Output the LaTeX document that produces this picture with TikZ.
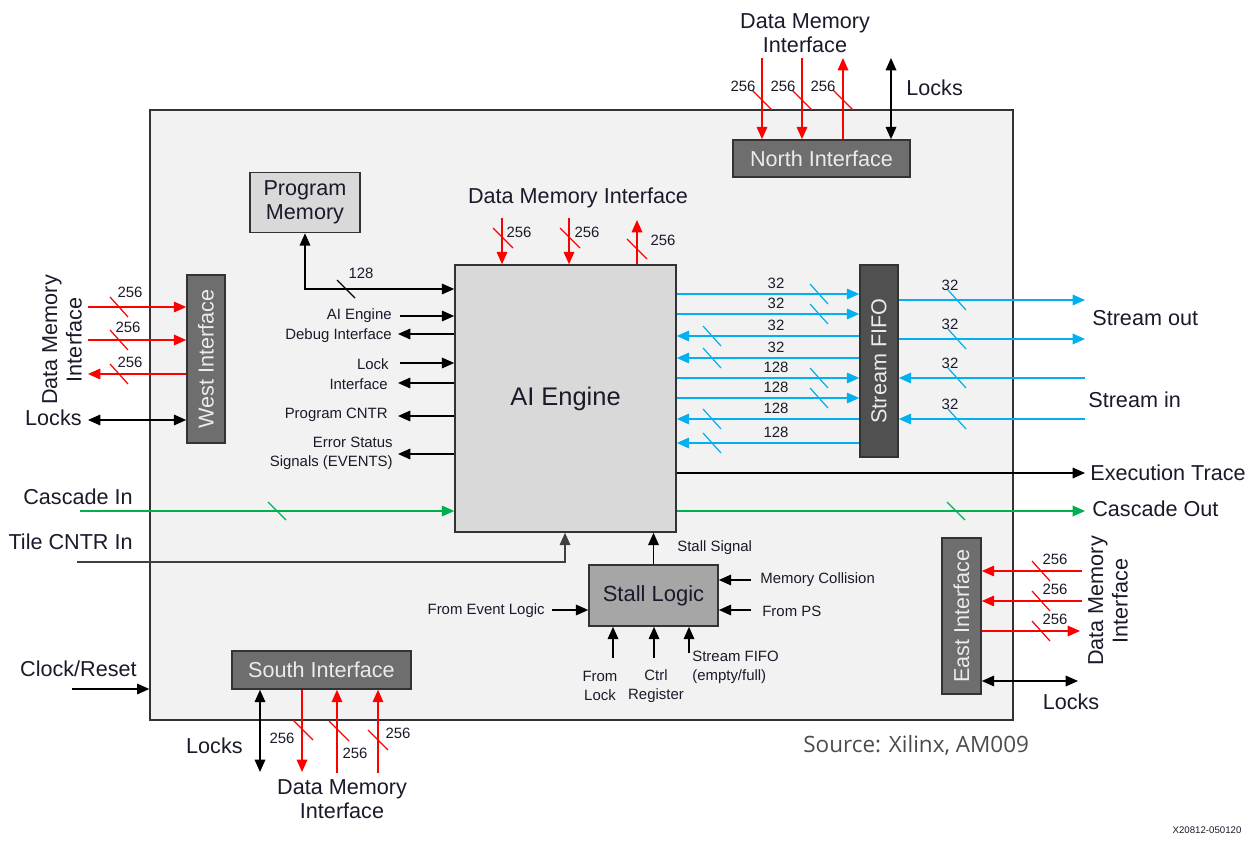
\documentclass[tikz,border=0pt]{standalone}
\usepackage{fontspec}
\setmainfont{Liberation Sans}
\newfontfamily\srcfont{Open Sans}
\usetikzlibrary{arrows.meta}
\definecolor{tilebg}{HTML}{F2F2F2}
\definecolor{corefill}{HTML}{D9D9D9}
\definecolor{portgray}{HTML}{6E6E6E}
\definecolor{fifogray}{HTML}{505050}
\definecolor{stallgray}{HTML}{A6A6A6}
\definecolor{memred}{HTML}{FF0000}
\definecolor{streamblue}{HTML}{00B0F0}
\definecolor{cascgreen}{HTML}{00B050}
\definecolor{ink}{HTML}{1A1A2A}

\begin{document}
\begin{tikzpicture}[x=0.02cm,y=-0.02cm,>={Triangle[length=7pt,width=6pt]},
   box/.style={draw=black!80,line width=0.9pt,inner sep=0pt,align=center,text=ink},
   port/.style={box,fill=portgray,text=white!92!black,font=\fontsize{12.3}{14}\selectfont},
   lbl/.style={inner sep=0pt,text=ink,font=\fontsize{12.3}{14}\selectfont,align=center},
   tiny/.style={inner sep=0pt,text=ink,font=\fontsize{8.5}{11}\selectfont,align=center},
   wire/.style={line width=0.9pt},
   bus/.style={line width=0.7pt}]
  \useasboundingbox (0,0) rectangle (1257,847);
  % --- tile and blocks ---
  \node[draw=black!80,line width=0.8pt,fill=tilebg,minimum width=17.26cm,minimum height=12.2cm] (tile) at (581.5,415) {};
  \node[box,fill=corefill,minimum width=4.42cm,minimum height=5.34cm,font=\fontsize{14.5}{16}\selectfont] (ai) at (565.5,398.5) {AI Engine};
  \node[box,fill=corefill,minimum width=2.2cm,minimum height=1.2cm,font=\fontsize{12.3}{13.5}\selectfont] (pm) at (305,202.5) {Program\\Memory};
  \node[port,minimum width=3.54cm,minimum height=0.74cm] (north) at (821.5,158.5) {North Interface};
  \node[port,minimum width=3.58cm,minimum height=0.76cm] (south) at (321.5,670) {South Interface};
  \node[port,minimum width=0.76cm,minimum height=3.36cm] (west) at (206,359) {};
  \node[port,draw=none,fill=none,rotate=90] (westtxt) at (west) {West Interface};
  \node[port,minimum width=0.78cm,minimum height=3.12cm] (east) at (961.5,616) {};
  \node[port,draw=none,fill=none,rotate=90] (easttxt) at (east) {East Interface};
  \node[port,fill=fifogray,minimum width=0.76cm,minimum height=3.84cm] (fifo) at (879,361) {};
  \node[port,draw=none,fill=none,rotate=90] (fifotxt) at (fifo) {Stream FIFO};
  \node[box,fill=stallgray,minimum width=2.58cm,minimum height=1.22cm,font=\fontsize{12.5}{14}\selectfont] (stall) at (653.5,595.5) {Stall Logic};
  % --- north ---
  \coordinate (nd1) at (762,58);
  \coordinate (nd2) at (802,58);
  \coordinate (nd3) at (843,58);
  \coordinate (nlk) at (891,58);
  \draw[wire,memred,->] (nd1) -- (nd1 |- north.north);
  \draw[wire,memred,->] (nd2) -- (nd2 |- north.north);
  \draw[wire,memred,->] (nd3 |- north.north) -- (nd3);
  \draw[wire,<->] (nlk) -- (nlk |- north.north);
  \foreach \xx in {762,802,843}
    \draw[bus,memred] (\xx,100) ++(-10,-10) -- ++(20,20);
  \foreach \xx in {743,783,823}
    \node[tiny] at (\xx,86) {256};
  \node[lbl] (ndmi) at (805,33) {Data Memory\\Interface};
  \node[lbl,anchor=west] (nlocks) at (906,88) {Locks};
  % --- west ---
  \coordinate (wd1) at (88,307);
  \coordinate (wd2) at (88,340);
  \coordinate (wd3) at (88,374);
  \coordinate (wlk) at (88,420);
  \draw[wire,memred,->] (wd1) -- (wd1 -| west.west);
  \draw[wire,memred,->] (wd2) -- (wd2 -| west.west);
  \draw[wire,memred,->] (wd3 -| west.west) -- (wd3);
  \draw[wire,<->] (wlk) -- (wlk -| west.west);
  \foreach \yy in {307,340,374}
    \draw[bus,memred] (119,\yy) ++(-9,-10) -- ++(18,20);
  \node[tiny] at (130,292) {256};
  \node[tiny] at (128,327) {256};
  \node[tiny] at (130,362) {256};
  \node[lbl,anchor=east] (wlocks) at (82,418) {Locks};
  \node[lbl,rotate=90] (wdmi) at (62,340) {Data Memory\\Interface};
  % --- program memory and debug ports ---
  \draw[wire,<->] (pm.south) |- (ai.west |- 0,289);
  \draw[bus] (346,289) ++(-9,-9) -- ++(18,18);
  \node[tiny] at (361,273) {128};
  \coordinate (dbgin) at (400,316);
  \coordinate (dbgout) at (398,334);
  \coordinate (lkin) at (400,363);
  \coordinate (lkout) at (398,383);
  \coordinate (pcntr) at (398,416);
  \coordinate (evts) at (398,454);
  \draw[wire,->] (dbgin) -- (dbgin -| ai.west);
  \draw[wire,->] (dbgout -| ai.west) -- (dbgout);
  \draw[wire,->] (lkin) -- (lkin -| ai.west);
  \draw[wire,->] (lkout -| ai.west) -- (lkout);
  \draw[wire,->] (pcntr -| ai.west) -- (pcntr);
  \draw[wire,->] (evts -| ai.west) -- (evts);
  \node[tiny,anchor=east] (ldbg1) at (392,316) {AI Engine};
  \node[tiny,anchor=east] (ldbg2) at (392,336) {Debug Interface};
  \node[tiny,anchor=east] (llk1) at (389,364) {Lock};
  \node[tiny,anchor=east] (llk2) at (388,384) {Interface};
  \node[tiny,anchor=east] (lpc) at (388,415) {Program CNTR};
  \node[tiny,anchor=east,align=right] (lev) at (393,453) {Error Status\\Signals (EVENTS)};
  % --- core data memory ---
  \coordinate (td1) at (502,218);
  \coordinate (td2) at (569,218);
  \coordinate (td3) at (637,220);
  \draw[wire,memred,->] (td1) -- (td1 |- ai.north);
  \draw[wire,memred,->] (td2) -- (td2 |- ai.north);
  \draw[wire,memred,->] (td3 |- ai.north) -- (td3);
  \draw[bus,memred] (503,238) ++(-10,-10) -- ++(20,20);
  \draw[bus,memred] (570,238) ++(-10,-10) -- ++(20,20);
  \draw[bus,memred] (637,249) ++(-10,-10) -- ++(20,20);
  \node[tiny] at (519,232) {256};
  \node[tiny] at (587,232) {256};
  \node[tiny] at (663,240) {256};
  \node[lbl] (tdmi) at (578,198) {Data Memory Interface};
  % --- streams ---
  \foreach \yy/\w in {294/32,314/32,378/128,398/128}{
    \draw[wire,streamblue,->] (ai.east |- 0,\yy) -- (fifo.west |- 0,\yy);
    \draw[bus,streamblue] (819,\yy) ++(-9,-10) -- ++(18,20);
    \node[tiny] at (776,\yy-11) {\w};
  }
  \foreach \yy/\w in {336/32,358/32,419/128,443/128}{
    \draw[wire,streamblue,->] (fifo.west |- 0,\yy) -- (ai.east |- 0,\yy);
    \draw[bus,streamblue] (712,\yy) ++(-9,-10) -- ++(18,20);
    \node[tiny] at (776,\yy-11) {\w};
  }
  \foreach \i/\yy in {1/300,2/339}{
    \coordinate (so\i) at (1085,\yy);
    \draw[wire,streamblue,->] (so\i -| fifo.east) -- (so\i);
    \draw[bus,streamblue] (957,\yy) ++(-9,-10) -- ++(18,20);
    \node[tiny] at (950,\yy-15) {32};
  }
  \foreach \i/\yy in {1/378,2/419}{
    \coordinate (si\i) at (1085,\yy);
    \draw[wire,streamblue,->] (si\i) -- (si\i -| fifo.east);
    \draw[bus,streamblue] (957,\yy) ++(-9,-10) -- ++(18,20);
    \node[tiny] at (950,\yy-15) {32};
  }
  \node[lbl,anchor=west] (sout) at (1092,318) {Stream out};
  \node[lbl,anchor=west] (sin) at (1088,400) {Stream in};
  % --- trace, cascade, control ---
  \coordinate (trace) at (1085,473);
  \coordinate (cout) at (1085,511);
  \coordinate (cin) at (80,511);
  \coordinate (tcin) at (77,562);
  \coordinate (clk) at (72,689);
  \draw[wire,->] (trace -| ai.east) -- (trace);
  \draw[wire,cascgreen,->] (cout -| ai.east) -- (cout);
  \draw[wire,cascgreen,->] (cin) -- (cin -| ai.west);
  \draw[bus,cascgreen] (956,511) ++(-9,-9) -- ++(18,18);
  \draw[bus,cascgreen] (277,511) ++(-9,-9) -- ++(18,18);
  \draw[wire,black!75,->] (tcin) -| (ai.south -| 565,0);
  \draw[wire,->] (clk) -- (clk -| tile.west);
  \node[lbl,anchor=west] (ltrace) at (1090,473) {Execution Trace};
  \node[lbl,anchor=west] (lcout) at (1092,509) {Cascade Out};
  \node[lbl,anchor=east] (lcin) at (133,497) {Cascade In};
  \node[lbl,anchor=east] (ltc) at (133,542) {Tile CNTR In};
  \node[lbl,anchor=east] (lclk) at (137,669) {Clock/Reset};
  % --- stall logic ---
  \coordinate (mc) at (751,580);
  \coordinate (ps) at (751,610);
  \coordinate (ev) at (552,610);
  \coordinate (fl) at (613,658);
  \coordinate (cr) at (654,658);
  \coordinate (sf) at (689,653);
  \draw[wire,->] (stall.north) -- (stall.north |- ai.south);
  \draw[wire,->] (mc) -- (mc -| stall.east);
  \draw[wire,->] (ps) -- (ps -| stall.east);
  \draw[wire,->] (ev) -- (ev -| stall.west);
  \draw[wire,->] (fl) -- (fl |- stall.south);
  \draw[wire,->] (cr) -- (cr |- stall.south);
  \draw[wire,->] (sf) -- (sf |- stall.south);
  \node[tiny,anchor=west] (lss) at (677,548) {Stall Signal};
  \node[tiny,anchor=west] (lmc) at (760,580) {Memory Collision};
  \node[tiny,anchor=west] (lps) at (762,611) {From PS};
  \node[tiny,anchor=east] (lev2) at (545,611) {From Event Logic};
  \node[tiny] (lfl) at (600,686) {From\\Lock};
  \node[tiny] (lcr) at (656,686) {Ctrl\\Register};
  \node[tiny,anchor=west,align=left] (lsf) at (692,667) {Stream FIFO\\(empty/full)};
  % --- south ---
  \coordinate (slk) at (260,772);
  \coordinate (sd1) at (302,772);
  \coordinate (sd2) at (337,773);
  \coordinate (sd3) at (378,773);
  \draw[wire,<->] (slk |- south.south) -- (slk);
  \draw[wire,memred,->] (sd1 |- south.south) -- (sd1);
  \draw[wire,memred,->] (sd2) -- (sd2 |- south.south);
  \draw[wire,memred,->] (sd3) -- (sd3 |- south.south);
  \draw[bus,memred] (303,730) ++(-10,-10) -- ++(20,20);
  \draw[bus,memred] (339,731) ++(-10,-10) -- ++(20,20);
  \draw[bus,memred] (378,740) ++(-10,-10) -- ++(20,20);
  \node[tiny] at (282,738) {256};
  \node[tiny] at (355,753) {256};
  \node[tiny] at (398,733) {256};
  \node[lbl,anchor=east] (slocks) at (243,746) {Locks};
  \node[lbl] (sdmi) at (342,799) {Data Memory\\Interface};
  % --- east ---
  \coordinate (ed1) at (1082,571);
  \coordinate (ed2) at (1082,601);
  \coordinate (ed3) at (1080,631);
  \coordinate (elk) at (1078,681);
  \draw[wire,memred,->] (ed1) -- (ed1 -| east.east);
  \draw[wire,memred,->] (ed2) -- (ed2 -| east.east);
  \draw[wire,memred,->] (ed3 -| east.east) -- (ed3);
  \draw[wire,<->] (elk -| east.east) -- (elk);
  \foreach \yy in {571,601,631}
    \draw[bus,memred] (1041,\yy) ++(-9,-10) -- ++(18,20);
  \node[tiny] at (1055,559) {256};
  \node[tiny] at (1055,589) {256};
  \node[tiny] at (1055,619) {256};
  \node[lbl] (elocks) at (1071,702) {Locks};
  \node[lbl,rotate=90] (edmi) at (1108,601) {Data Memory\\Interface};
  % --- source ---
  \node[anchor=west,inner sep=0pt,font=\srcfont\fontsize{12.8}{15}\selectfont,text=black!70] (src) at (803,745) {Source: Xilinx, AM009};
  \node[inner sep=0pt,font=\fontsize{5.5}{6}\selectfont,text=ink] (tag) at (1207,830) {X20812-050120};
\end{tikzpicture}
\end{document}
